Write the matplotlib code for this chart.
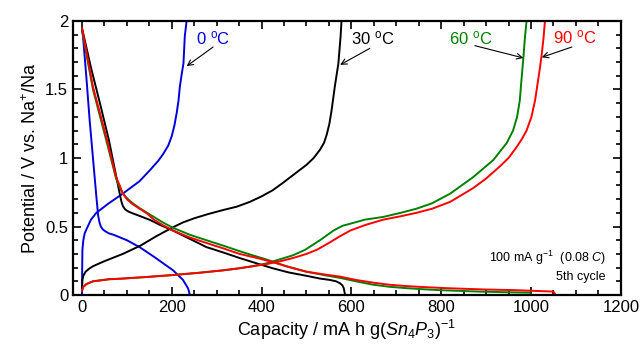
import matplotlib
matplotlib.use("Agg")
import matplotlib.pyplot as plt
from matplotlib.ticker import MultipleLocator

plt.rcParams['font.family'] = ['Liberation Sans', 'DejaVu Sans']
plt.rcParams['mathtext.fontset'] = 'custom'
plt.rcParams['mathtext.rm'] = 'Liberation Sans'
plt.rcParams['mathtext.it'] = 'Liberation Sans:italic'

# 0 C
blue_dis_x = [0, 2, 10, 17, 25, 32, 36, 39, 42, 46, 52, 60, 70, 100, 128, 160, 203, 225, 236, 238, 240]
blue_dis_y = [1.93, 1.9, 1.58, 1.28, 0.98, 0.72, 0.58, 0.53, 0.50, 0.48, 0.465, 0.45, 0.44, 0.40, 0.35, 0.28, 0.18, 0.11, 0.05, 0.03, 0.0]
blue_chg_x = [0, 0.5, 1, 3, 6, 10, 20, 32, 60, 91, 128, 151, 170, 181, 192, 200, 206, 211, 215, 218, 222, 226, 229, 233]
blue_chg_y = [0.0, 0.2, 0.33, 0.40, 0.45, 0.48, 0.55, 0.60, 0.67, 0.74, 0.83, 0.91, 0.98, 1.03, 1.09, 1.16, 1.24, 1.33, 1.42, 1.52, 1.61, 1.69, 1.89, 2.0]

# 30 C
black_dis_x = [0, 20, 40, 60, 76, 84, 88, 91, 96, 103, 110, 130, 150, 175, 203, 240, 277, 315, 351, 390, 425, 460, 500, 530, 552, 566, 575, 580, 583, 586]
black_dis_y = [1.95, 1.66, 1.40, 1.13, 0.87, 0.74, 0.68, 0.65, 0.625, 0.61, 0.60, 0.575, 0.55, 0.51, 0.47, 0.41, 0.35, 0.31, 0.27, 0.23, 0.195, 0.165, 0.14, 0.12, 0.11, 0.10, 0.085, 0.07, 0.05, 0.0]
black_chg_x = [0, 1, 3, 8, 15, 24.5, 45, 60, 91, 130, 166, 200, 225, 250, 280, 314, 345, 374, 400, 425, 448, 470, 500, 516, 530, 539, 545, 551, 556, 563, 571, 576, 578]
black_chg_y = [0.05, 0.11, 0.14, 0.17, 0.19, 0.21, 0.24, 0.26, 0.30, 0.36, 0.43, 0.49, 0.53, 0.56, 0.59, 0.62, 0.645, 0.68, 0.72, 0.765, 0.82, 0.875, 0.95, 1.0, 1.06, 1.11, 1.17, 1.25, 1.35, 1.52, 1.69, 1.89, 2.0]

# 60 C
green_dis_x = [0, 24.5, 54, 76, 86, 95, 104, 115, 128, 145, 160, 180, 203, 240, 277, 315, 351, 380, 410, 455, 500, 540, 575, 610, 649, 685, 723, 760, 800, 886, 950, 998, 1002]
green_dis_y = [1.93, 1.50, 1.13, 0.85, 0.77, 0.725, 0.695, 0.665, 0.635, 0.60, 0.57, 0.53, 0.49, 0.44, 0.40, 0.36, 0.32, 0.29, 0.26, 0.21, 0.17, 0.145, 0.125, 0.10, 0.075, 0.06, 0.05, 0.042, 0.035, 0.025, 0.02, 0.017, 0.0]
green_chg_x = [0, 3, 10, 24.5, 60, 91, 150, 203, 260, 314, 350, 380, 410, 440, 470, 497, 530, 560, 580, 597, 630, 671, 710, 745, 780, 820, 871, 916, 946, 960, 969, 975, 979, 983, 986, 990]
green_chg_y = [0.03, 0.06, 0.08, 0.10, 0.115, 0.12, 0.133, 0.146, 0.162, 0.18, 0.195, 0.21, 0.23, 0.26, 0.29, 0.33, 0.40, 0.47, 0.505, 0.52, 0.55, 0.57, 0.60, 0.63, 0.67, 0.74, 0.86, 0.985, 1.11, 1.20, 1.30, 1.42, 1.58, 1.73, 1.86, 2.0]

# 90 C
red_dis_x = [0, 24.5, 54, 76, 84, 91, 100, 110, 128, 145, 160, 180, 203, 240, 277, 315, 351, 390, 425, 460, 500, 540, 575, 610, 649, 685, 723, 760, 812, 900, 960, 1050, 1055]
red_dis_y = [1.95, 1.52, 1.155, 0.86, 0.80, 0.74, 0.70, 0.67, 0.63, 0.595, 0.55, 0.51, 0.47, 0.42, 0.38, 0.34, 0.30, 0.27, 0.24, 0.205, 0.17, 0.15, 0.134, 0.11, 0.09, 0.075, 0.065, 0.058, 0.05, 0.04, 0.036, 0.025, 0.0]
red_chg_x = [0, 3, 10, 24.5, 60, 91, 150, 203, 260, 314, 350, 380, 410, 440, 470, 500, 523, 550, 575, 597, 630, 671, 710, 745, 780, 820, 871, 900, 931, 950, 968, 980, 990, 1001, 1009, 1015, 1020, 1024, 1028, 1031]
red_chg_y = [0.03, 0.06, 0.08, 0.10, 0.115, 0.12, 0.133, 0.146, 0.162, 0.18, 0.195, 0.21, 0.225, 0.245, 0.27, 0.30, 0.33, 0.38, 0.43, 0.47, 0.51, 0.55, 0.575, 0.60, 0.63, 0.68, 0.78, 0.85, 0.94, 1.0, 1.08, 1.14, 1.20, 1.30, 1.42, 1.55, 1.66, 1.76, 1.88, 2.0]

fig = plt.figure(figsize=(6.42, 3.44), dpi=100)
ax = fig.add_axes([0.1137, 0.1424, 0.8533, 0.7966])

lw = 1.4
series = [
    (blue_dis_x, blue_dis_y, '#0000dd'), (blue_chg_x, blue_chg_y, '#0000dd'),
    (black_dis_x, black_dis_y, 'black'), (black_chg_x, black_chg_y, 'black'),
    (green_dis_x, green_dis_y, '#008000'), (green_chg_x, green_chg_y, '#008000'),
    (red_dis_x, red_dis_y, '#ff0000'), (red_chg_x, red_chg_y, '#ff0000'),
]
for xs, ys, c in series:
    ax.plot(xs, ys, color=c, lw=lw, solid_joinstyle='round', solid_capstyle='round')

arrow = dict(arrowstyle='->', color='black', lw=0.8, shrinkA=0, shrinkB=0)
ax.annotate('', xy=(233, 1.67), xytext=(292, 1.81), arrowprops=arrow)
ax.text(292, 1.87, '0 $^{\\rm o}$C', color='#0000dd', fontsize=12, ha='center', va='center')
ax.annotate('', xy=(575, 1.68), xytext=(641, 1.80), arrowprops=arrow)
ax.text(648, 1.87, '30 $^{\\rm o}$C', color='black', fontsize=12, ha='center', va='center')
ax.annotate('', xy=(983, 1.73), xytext=(875, 1.82), arrowprops=arrow)
ax.text(866, 1.87, '60 $^{\\rm o}$C', color='#008000', fontsize=12, ha='center', va='center')
ax.annotate('', xy=(1024, 1.735), xytext=(1091, 1.81), arrowprops=arrow)
ax.text(1098, 1.88, '90 $^{\\rm o}$C', color='#ff0000', fontsize=12, ha='center', va='center')

ax.text(1167, 0.27, '100 mA g$^{-1}$  (0.08 $C$)', fontsize=9, ha='right', va='center')
ax.text(1167, 0.135, '5th cycle', fontsize=9, ha='right', va='center')

ax.set_xlim(-20, 1200)
ax.set_ylim(0, 2)
ax.xaxis.set_major_locator(MultipleLocator(200))
ax.xaxis.set_minor_locator(MultipleLocator(50))
ax.yaxis.set_major_locator(MultipleLocator(0.5))
ax.yaxis.set_minor_locator(MultipleLocator(0.1))
ax.set_yticks([0, 0.5, 1, 1.5, 2])
ax.set_yticklabels(['0', '0.5', '1', '1.5', '2'])
ax.tick_params(which='both', direction='in', top=True, right=True, labelsize=12, width=1.2)
ax.tick_params(which='major', length=6)
ax.tick_params(which='minor', length=3.5)
for s in ax.spines.values():
    s.set_linewidth(1.6)

ax.set_xlabel('Capacity / mA h g($Sn_4P_3$)$^{-1}$', fontsize=13, labelpad=2)
ax.set_ylabel('Potential / V vs. Na$^{+}$/Na', fontsize=13, labelpad=4)

fig.savefig('out.png', dpi=100)
